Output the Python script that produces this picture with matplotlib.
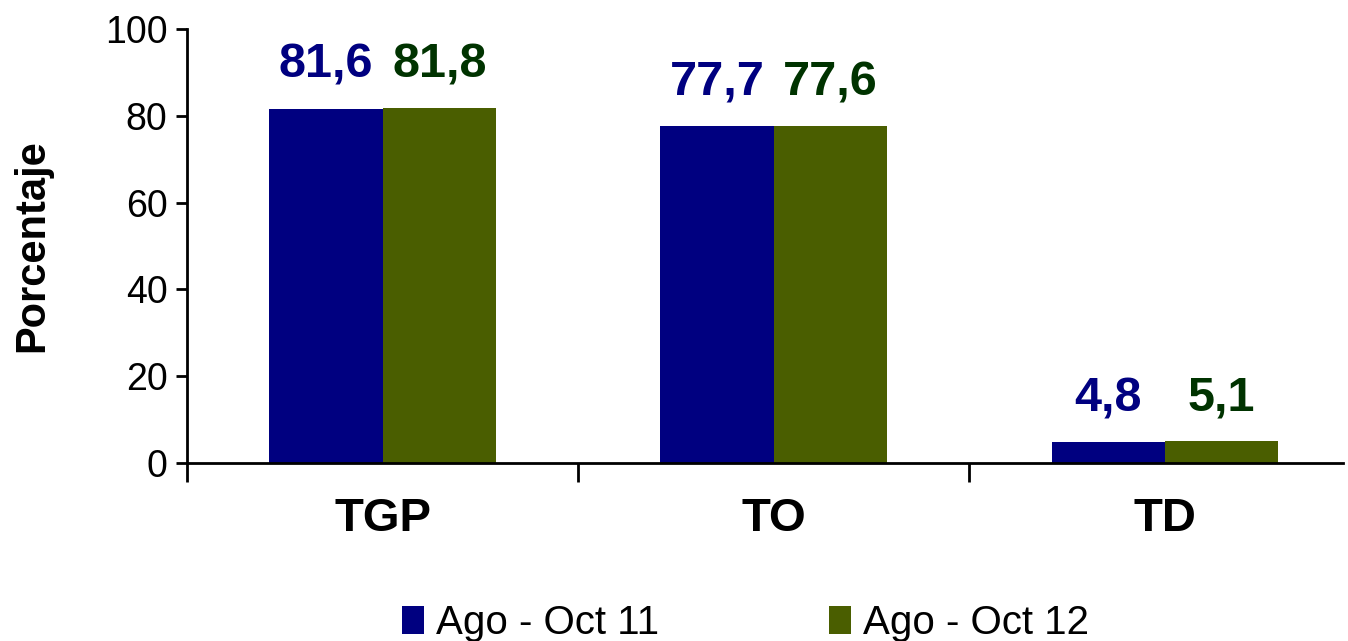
import matplotlib
matplotlib.use("Agg")
import matplotlib.pyplot as plt
import numpy as np

categories = ["TGP", "TO", "TD"]
series_names = ["Ago - Oct 11", "Ago - Oct 12"]
values_2011 = [81.6, 77.7, 4.8]
values_2012 = [81.8, 77.6, 5.1]
labels_2011 = ["81,6", "77,7", "4,8"]
labels_2012 = ["81,8", "77,6", "5,1"]
yticks = [0, 20, 40, 60, 80, 100]

bar_colors = ["#000080", "#4A5E00"]
label_colors = ["#000080", "#003300"]

plt.rcParams["font.family"] = ["Liberation Sans", "DejaVu Sans"]

fig = plt.figure(figsize=(13.48, 6.41), dpi=100)
ax = fig.add_axes([0.1387, 0.2777, 0.8576, 0.6771])

x = np.arange(len(categories))
w = 0.29
b1 = ax.bar(x - w / 2, values_2011, w, color=bar_colors[0], label=series_names[0])
b2 = ax.bar(x + w / 2, values_2012, w, color=bar_colors[1], label=series_names[1])

for bars, labs, col in [(b1, labels_2011, label_colors[0]), (b2, labels_2012, label_colors[1])]:
    for rect, lab in zip(bars, labs):
        ax.annotate(lab, (rect.get_x() + rect.get_width() / 2, rect.get_height()),
                    xytext=(0, 15), textcoords="offset points", ha="center", va="bottom",
                    fontsize=35, fontweight="bold", color=col)

ax.set_xlim(-0.5, 2.455)
ax.set_ylim(0, 100)
ax.set_yticks(yticks)
ax.set_yticklabels([str(t) for t in yticks], fontsize=27)
ax.tick_params(axis="y", direction="out", length=8, width=2, pad=6)

ax.set_xticks([-0.5, 0.5, 1.5])
ax.set_xticklabels([])
ax.tick_params(axis="x", direction="out", length=14, width=2)
for xi, c in zip(x, categories):
    ax.text(xi, -13, c, ha="center", va="center", fontsize=34, fontweight="bold",
            transform=ax.transData, clip_on=False)

for s in ["top", "right"]:
    ax.spines[s].set_visible(False)
ax.spines["left"].set_linewidth(2)
ax.spines["bottom"].set_linewidth(2)

ax.set_ylabel("Porcentaje", fontsize=30, fontweight="bold", labelpad=38)

fig.legend(handles=[b1, b2], labels=series_names, loc="center", bbox_to_anchor=(0.553, 0.028),
           ncol=2, frameon=False, fontsize=29, handlelength=0.55, handleheight=0.7,
           handletextpad=0.3, columnspacing=4.2)

fig.savefig("out.png", dpi=100)
